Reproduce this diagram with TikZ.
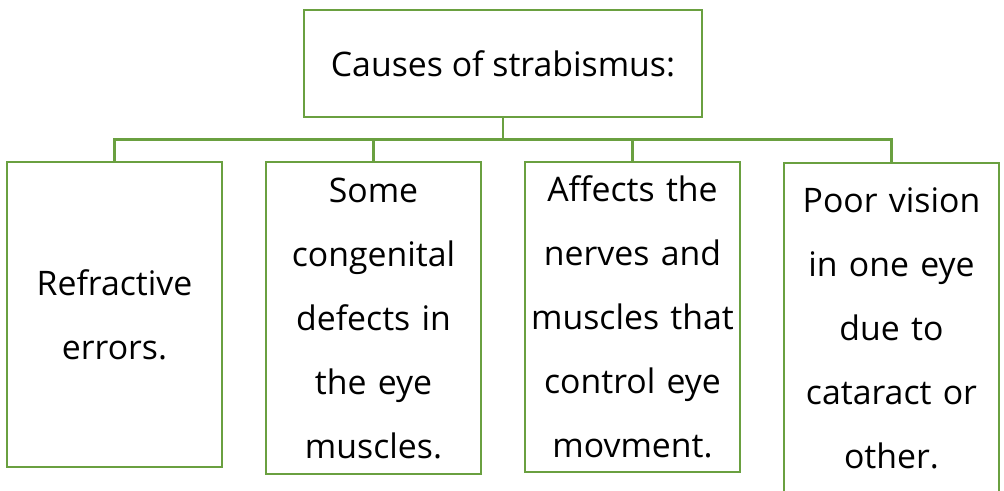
\documentclass[tikz,border=0pt]{standalone}
\usepackage{fontspec}
\setmainfont{Open Sans}
\usetikzlibrary{positioning}
\definecolor{leafgreen}{RGB}{106,160,64}

\begin{document}
\begin{tikzpicture}[x=1pt,y=-1pt,
  box/.style={draw=leafgreen,line width=2.6pt,fill=white,inner sep=0pt,
    align=center,font=\fontsize{33.8}{64}\selectfont},
  cause/.style={box,minimum width=215pt,text width=212pt},
  link/.style={draw=leafgreen,line width=2.6pt}]
  \useasboundingbox (0,0) rectangle (1004,490);
  \node[box,minimum width=398pt,minimum height=107pt] (top) at (503,63.5) {Causes of strabismus:};
  \node[cause,minimum height=305pt] (refr) at (114.5,314.5) {Refractive\\errors.};
  \node[cause,minimum height=312pt] (cong) at (373.5,318) {Some\\congenital\\defects in\\the eye\\muscles.};
  \node[cause,minimum height=310pt] (nerv) at (632.5,317) {Affects the\\nerves and\\muscles that\\control eye\\movment.};
  \node[cause,minimum height=330pt] (poor) at (891.5,328) {Poor vision\\in one eye\\due to\\cataract or\\other.};
  \coordinate[below=21pt of top.south] (hub);
  \draw[link] (top.south) -- (hub);
  \foreach \b in {refr,cong,nerv,poor}
    \draw[link] (hub) -| (\b.north);
\end{tikzpicture}
\end{document}
